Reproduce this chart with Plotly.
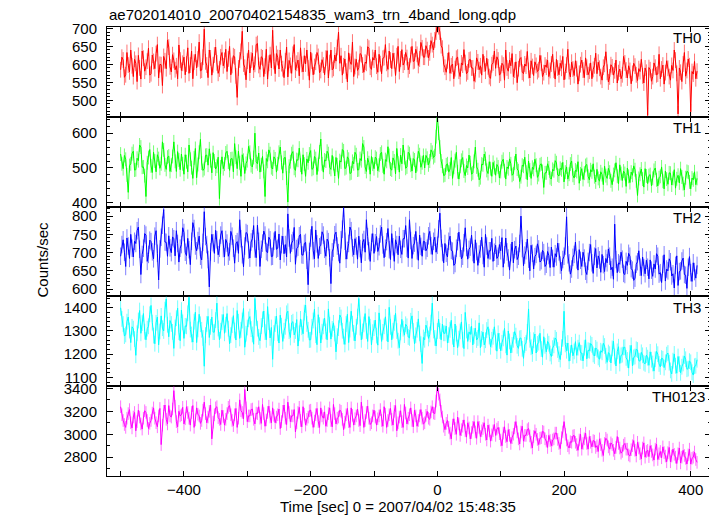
import plotly.graph_objects as go

# ---------------- data ----------------
T_START = -500          # time of first bin [s]
BIN = 2                 # bin width [s]

th0 = [
585, 620, 612, 564, 571, 633, 598, 579, 640, 596, 566, 614, 603, 552, 625, 590, 559, 637, 617, 581, 592, 609, 645, 570, 574, 626, 608, 588, 630, 655, 562, 600, 599, 541, 622, 610, 588, 668, 648, 593,
579, 627, 611, 585, 596, 560, 654, 612, 583, 603, 620, 571, 601, 646, 575, 598, 637, 560, 606, 628, 590, 615, 662, 582, 584, 620, 698, 607, 598, 563, 640, 618, 570, 599, 626, 648, 604, 575, 587, 621,
633, 596, 611, 642, 580, 615, 650, 571, 597, 624, 621, 568, 508, 590, 612, 636, 692, 601, 592, 557, 609, 640, 576, 612, 631, 584, 600, 655, 658, 597, 586, 621, 618, 566, 595, 642, 559, 603, 627, 590,
695, 608, 574, 630, 619, 587, 640, 602, 588, 563, 610, 648, 565, 611, 597, 575, 628, 655, 584, 603, 612, 568, 646, 600, 579, 624, 601, 640, 590, 556, 634, 609, 571, 594, 606, 633, 622, 577, 583, 613,
598, 571, 617, 638, 562, 605, 640, 585, 589, 626, 609, 647, 690, 603, 624, 570, 596, 615, 581, 551, 632, 608, 600, 662, 566, 594, 614, 583, 591, 630, 627, 598, 578, 606, 603, 649, 645, 592, 586, 619,
612, 640, 595, 578, 628, 602, 574, 617, 619, 655, 603, 586, 637, 612, 588, 631, 610, 569, 624, 650, 580, 615, 641, 598, 606, 633, 619, 585, 595, 627, 650, 608, 610, 642, 628, 597, 615, 661, 646, 620,
620, 652, 641, 618, 632, 666, 655, 640, 668, 690, 710, 705, 690, 652, 645, 600,
592, 578, 610, 633, 575, 596, 601, 560, 588, 617, 620, 581, 566, 604, 598, 641, 605, 574, 579, 612, 614, 590, 590, 553, 572, 618, 607, 585, 596, 570, 628, 601, 581, 617, 593, 566, 561, 599, 604, 637,
589, 621, 612, 570, 575, 603, 598, 556, 640, 590, 581, 612, 596, 630, 566, 584, 607, 549, 588, 615, 619, 578, 574, 601, 595, 636, 583, 562, 610, 594, 569, 607, 597, 580, 585, 625, 603, 566, 577, 598,
592, 612, 566, 583, 601, 628, 584, 559, 614, 590, 571, 603, 589, 622, 557, 580, 598, 642, 580, 565, 606, 587, 569, 610, 588, 545, 575, 599, 612, 584, 563, 618, 592, 571, 581, 604, 560, 586, 596, 631,
574, 606, 589, 566, 556, 592, 600, 635, 578, 551, 565, 599, 593, 570, 582, 612, 548, 577, 587, 560, 571, 622, 604, 584, 562, 596, 583, 546, 575, 603, 595, 571, 555, 588, 580, 614, 568, 548, 590, 578,
458, 591, 585, 553, 566, 604, 592, 571, 573, 628, 560, 587, 598, 545, 577, 610, 589, 566, 556, 597, 583, 640, 612, 575, 462, 590, 578, 552, 601, 633, 567, 583, 615, 596, 468, 580, 573, 608, 560, 581]

th1 = [
540, 512, 498, 536, 525, 480, 430, 507, 512, 541, 548, 494, 495, 528, 521, 566, 560, 502, 503, 478, 418, 515, 530, 553, 506, 487, 545, 520, 489, 538, 527, 499, 512, 575, 552, 509, 496, 531, 534, 490,
508, 533, 575, 519, 490, 547, 523, 495, 540, 512, 482, 538, 518, 489, 566, 525, 501, 470, 529, 556, 472, 510, 545, 582, 514, 493, 498, 536, 537, 508, 555, 521, 486, 544, 520, 497, 505, 531, 412, 503,
532, 498, 511, 543, 548, 517, 493, 526, 527, 489, 570, 531, 498, 548, 515, 476, 538, 522, 484, 513, 521, 562, 545, 507, 503, 530, 600, 518, 512, 543, 488, 509, 533, 490, 418, 527, 519, 552, 541, 501,
497, 532, 526, 488, 512, 545, 560, 516, 485, 529, 530, 471, 402, 505, 518, 541, 547, 499, 493, 524, 522, 557, 508, 482, 538, 511, 476, 526, 515, 540, 550, 496, 499, 533, 527, 481, 510, 546, 583, 512,
488, 523, 520, 548, 541, 502, 496, 536, 513, 477, 530, 509, 470, 521, 517, 553, 549, 498, 501, 532, 525, 484, 486, 519, 512, 545, 538, 494, 495, 527, 521, 570, 560, 503, 490, 528, 515, 482, 533, 511,
498, 531, 527, 492, 508, 540, 545, 506, 482, 524, 519, 561, 536, 497, 494, 529, 520, 483, 556, 514, 488, 537, 512, 566, 530, 499, 503, 545, 541, 508, 491, 527, 523, 486, 510, 548, 538, 502, 515, 536,
500, 536, 528, 509, 520, 552, 545, 530, 535, 590, 652, 600, 560, 520, 505, 478,
480, 509, 512, 488, 497, 530, 470, 502, 521, 545, 489, 468, 505, 522, 530, 491, 478, 507, 500, 537, 515, 482, 486, 519, 560, 503, 495, 466, 472, 511, 509, 540, 527, 493, 484, 518, 498, 476, 516, 501,
479, 510, 503, 471, 490, 518, 525, 492, 468, 503, 498, 526, 512, 479, 483, 514, 540, 497, 492, 461, 475, 508, 505, 531, 488, 466, 520, 494, 470, 502, 496, 525, 508, 473, 481, 509, 512, 490, 444, 486,
486, 512, 500, 472, 468, 496, 492, 521, 515, 480, 477, 499, 495, 516, 460, 488, 503, 468, 482, 511, 520, 479, 471, 494, 490, 518, 456, 483, 498, 467, 485, 507, 510, 476, 466, 495, 489, 512, 475, 460,
496, 470, 462, 489, 481, 452, 505, 478, 470, 499, 488, 463, 452, 481, 493, 515, 476, 455, 509, 484, 464, 491, 484, 447, 500, 476, 458, 488, 479, 506, 495, 463, 421, 470, 482, 497, 468, 445, 498, 477,
455, 478, 481, 449, 470, 493, 500, 466, 448, 472, 476, 503, 462, 440, 491, 468, 453, 486, 485, 451, 470, 495, 442, 469, 479, 457, 498, 474, 455, 437, 472, 490, 488, 460, 440, 471, 466, 489, 452, 470]

th2 = [
690, 722, 735, 701, 662, 740, 718, 684, 750, 712, 688, 731, 725, 760, 770, 709, 640, 695, 712, 752, 748, 676, 695, 734, 730, 702, 683, 745, 760, 698, 625, 710, 742, 775, 818, 729, 728, 690, 746, 713,
700, 743, 738, 691, 760, 725, 674, 712, 722, 768, 755, 701, 692, 739, 708, 667, 731, 782, 766, 718, 705, 733, 745, 690, 680, 728, 812, 744, 722, 681, 606, 702, 750, 727, 698, 761, 735, 694, 712, 748,
760, 711, 688, 736, 726, 690, 702, 758, 745, 712, 671, 724, 730, 698, 790, 738, 694, 661, 718, 755, 752, 707, 685, 729, 738, 774, 710, 686, 775, 731, 662, 709, 726, 759, 748, 703, 700, 742, 735, 689,
690, 731, 758, 709, 712, 751, 680, 722, 745, 697, 722, 688, 806, 740, 698, 726, 733, 769, 668, 711, 715, 746, 750, 694, 693, 725, 728, 679, 612, 703, 740, 772, 705, 683, 762, 724, 684, 716, 720, 757,
748, 709, 690, 737, 730, 686, 615, 702, 712, 749, 756, 718, 700, 671, 735, 764, 822, 731, 682, 706, 725, 770, 760, 713, 694, 738, 718, 682, 745, 711, 672, 728, 736, 701, 790, 744, 705, 676, 728, 752,
698, 727, 744, 703, 716, 751, 770, 721, 686, 712, 730, 766, 708, 681, 752, 716, 676, 735, 722, 694, 745, 709, 695, 738, 738, 774, 712, 685, 790, 733, 684, 719, 726, 758, 705, 679, 748, 717, 690, 731,
730, 705, 712, 746, 758, 719, 695, 731, 742, 701, 720, 765, 808, 739, 700, 672,
725, 698, 688, 731, 745, 706, 704, 665, 670, 712, 730, 756, 712, 683, 690, 727, 768, 714, 682, 709, 715, 748, 700, 671, 735, 703, 665, 696, 710, 742, 692, 660, 750, 718, 684, 705, 705, 739, 676, 701,
720, 684, 690, 722, 705, 741, 660, 694, 740, 702, 685, 652, 700, 729, 672, 708, 718, 681, 690, 725, 800, 711, 664, 693, 705, 737, 682, 650, 720, 698, 655, 689, 695, 724, 710, 674, 678, 706, 700, 662,
668, 703, 692, 659, 715, 684, 660, 697, 688, 726, 702, 666, 650, 681, 690, 718, 798, 694, 672, 641, 655, 687, 695, 729, 680, 652, 708, 679, 662, 701, 685, 649, 640, 676, 700, 722, 672, 643, 690, 711,
658, 691, 680, 646, 695, 667, 648, 684, 672, 710, 690, 653, 660, 627, 778, 681, 645, 672, 668, 701, 682, 643, 640, 676, 665, 698, 690, 656, 652, 624, 630, 668, 675, 705, 660, 637, 688, 659, 642, 679,
660, 628, 680, 652, 635, 669, 655, 697, 690, 641, 645, 618, 668, 694, 622, 655, 650, 683, 675, 636, 642, 603, 665, 691, 610, 648, 650, 677, 685, 640, 638, 602, 660, 689, 645, 621, 672, 648, 630, 665]

th3 = [
1400, 1352, 1330, 1278, 1285, 1340, 1360, 1302, 1250, 1318, 1310, 1265, 1195, 1290, 1345, 1388, 1290, 1334, 1375, 1297, 1262, 1310, 1320, 1372, 1410, 1336, 1280, 1245, 1335, 1360, 1240, 1298, 1365, 1312, 1300, 1392, 1438, 1327, 1275, 1345,
1330, 1296, 1225, 1315, 1355, 1398, 1295, 1258, 1390, 1337, 1268, 1322, 1320, 1376, 1445, 1306, 1285, 1252, 1340, 1381, 1250, 1307, 1372, 1329, 1305, 1270, 1148, 1282, 1330, 1363, 1272, 1318, 1360, 1295, 1295, 1347, 1420, 1311, 1262, 1301,
1338, 1371, 1290, 1327, 1375, 1310, 1245, 1282, 1325, 1366, 1302, 1261, 1388, 1340, 1268, 1305, 1345, 1397, 1230, 1288, 1315, 1350, 1362, 1308, 1285, 1243, 1440, 1356, 1310, 1274, 1258, 1321, 1350, 1386, 1295, 1262, 1405, 1338, 1270, 1315,
1178, 1291, 1330, 1364, 1290, 1248, 1368, 1323, 1255, 1301, 1318, 1376, 1385, 1299, 1272, 1335, 1340, 1283, 1300, 1349, 1235, 1290, 1352, 1316, 1288, 1379, 1412, 1330, 1305, 1261, 1262, 1318, 1345, 1394, 1282, 1241, 1370, 1325, 1248, 1297,
1320, 1355, 1298, 1262, 1395, 1327, 1265, 1309, 1335, 1289, 1210, 1278, 1312, 1369, 1358, 1301, 1276, 1242, 1330, 1372, 1250, 1306, 1385, 1331, 1292, 1257, 1318, 1362, 1440, 1315, 1262, 1298, 1328, 1375, 1300, 1255, 1362, 1318, 1240, 1295,
1312, 1347, 1280, 1239, 1378, 1315, 1255, 1296, 1320, 1361, 1290, 1253, 1402, 1318, 1262, 1301, 1335, 1376, 1300, 1258, 1228, 1294, 1350, 1310, 1282, 1329, 1320, 1274, 1270, 1344, 1365, 1300, 1245, 1281, 1305, 1352, 1290, 1243, 1160, 1272,
1262, 1325, 1310, 1268, 1285, 1336, 1420, 1302, 1270, 1235, 1300, 1351, 1300, 1262, 1330, 1290,
1290, 1321, 1248, 1282, 1305, 1346, 1275, 1231, 1330, 1289, 1228, 1267, 1298, 1339, 1262, 1224, 1380, 1302, 1255, 1296, 1285, 1320, 1240, 1279, 1312, 1261, 1270, 1335, 1228, 1266, 1295, 1240, 1260, 1304, 1318, 1276, 1232, 1262, 1275, 1318,
1250, 1213, 1290, 1257, 1215, 1249, 1268, 1311, 1238, 1196, 1300, 1255, 1205, 1240, 1262, 1297, 1280, 1236, 1225, 1268, 1270, 1223, 1182, 1240, 1248, 1296, 1395, 1262, 1230, 1201, 1260, 1287, 1205, 1244, 1250, 1290, 1222, 1187, 1275, 1236,
1210, 1255, 1245, 1203, 1190, 1226, 1238, 1270, 1262, 1218, 1200, 1177, 1230, 1266, 1385, 1242, 1215, 1248, 1170, 1205, 1240, 1193, 1212, 1254, 1195, 1228, 1250, 1207, 1205, 1171, 1228, 1262, 1180, 1217, 1215, 1246, 1240, 1199, 1192, 1227,
1220, 1186, 1178, 1215, 1208, 1247, 1235, 1193, 1165, 1207, 1200, 1162, 1225, 1256, 1190, 1149, 1212, 1232, 1160, 1195, 1198, 1229, 1230, 1184, 1175, 1140, 1205, 1238, 1150, 1186, 1190, 1221, 1218, 1172, 1170, 1208, 1195, 1163, 1158, 1196,
1185, 1152, 1210, 1176, 1160, 1127, 1178, 1212, 1200, 1158, 1145, 1183, 1180, 1142, 1165, 1198, 1205, 1163, 1130, 1115, 1172, 1201, 1150, 1118, 1190, 1157, 1120, 1146, 1160, 1192, 1178, 1135, 1138, 1170, 1165, 1122, 1110, 1148, 1150, 1176]

th0123 = [
3240, 3170, 3120, 3085, 3060, 3140, 3180, 3215, 3100, 3055, 3150, 3190, 3030, 3110, 3210, 3150, 3090, 3045, 3140, 3205, 3190, 3120, 3050, 3095, 3120, 3185, 3230, 3140, 3100, 3065, 3160, 3225, 2910, 3080, 3200, 3255, 3130, 3090, 3250, 3160,
3150, 3220, 3380, 3245, 3110, 3065, 3200, 3160, 3170, 3235, 3090, 3135, 3240, 3190, 3140, 3080, 3190, 3250, 3060, 3125, 3230, 3175, 3160, 3095, 3120, 3210, 3280, 3180, 3100, 3150, 3200, 3255, 2960, 3105, 3170, 3230, 3240, 3145, 3130, 3085,
3210, 3155, 3080, 3130, 3180, 3235, 3250, 3170, 3120, 3075, 3170, 3225, 3060, 3140, 3300, 3205, 3190, 3135, 3390, 3230, 3110, 3160, 3160, 3215, 3220, 3130, 3090, 3185, 3180, 3240, 3140, 3095, 3260, 3180, 3070, 3125, 3190, 3245, 3150, 3100,
3230, 3165, 3100, 3150, 3170, 3220, 3050, 3110, 3200, 3255, 3140, 3085, 3280, 3190, 3110, 3160, 3160, 3215, 3020, 3100, 3190, 3235, 3120, 3065, 3240, 3175, 3080, 3130, 3150, 3205, 3210, 3140, 3060, 3115, 3170, 3225, 3110, 3060, 3230, 3160,
3140, 3195, 3070, 3120, 3180, 3230, 3120, 3065, 3260, 3180, 3090, 3140, 3150, 3210, 3200, 3130, 3040, 3105, 3170, 3225, 3110, 3060, 3230, 3165, 3080, 3135, 3160, 3220, 3120, 3075, 3280, 3190, 3060, 3120, 3190, 3245, 3140, 3085, 3100, 3160,
3210, 3150, 3080, 3135, 3160, 3215, 3120, 3070, 3240, 3175, 3060, 3120, 3170, 3225, 3130, 3080, 3200, 3250, 3030, 3100, 3150, 3205, 3110, 3060, 3260, 3185, 3090, 3140, 3170, 3230, 3120, 3065, 3210, 3160, 3070, 3120, 3160, 3215, 3140, 3090,
3100, 3165, 3200, 3140, 3130, 3195, 3240, 3185, 3180, 3290, 3420, 3350, 3300, 3200, 3150, 3070,
3040, 3095, 3120, 3060, 3010, 2960, 3080, 3135, 3050, 3000, 3150, 3090, 2990, 3040, 3070, 3125, 3030, 2975, 3100, 3055, 2960, 3015, 3060, 3110, 3020, 2965, 3110, 3060, 2980, 3030, 3050, 3100, 3000, 2950, 3080, 3030, 2940, 2995, 3030, 3085,
2990, 3045, 3060, 3005, 2950, 2900, 3010, 3065, 2980, 2935, 3040, 2990, 2920, 2970, 3000, 3055, 3110, 3020, 2960, 2915, 3020, 3070, 2940, 2990, 2990, 3040, 3050, 2985, 2930, 2880, 2980, 3030, 3000, 2955, 2910, 2965, 2970, 3025, 3020, 2960,
2940, 2885, 2990, 2945, 2900, 2950, 2960, 3010, 3010, 2955, 2920, 2875, 2970, 3020, 3110, 3000, 2950, 2900, 2880, 2935, 2930, 2985, 2990, 2930, 2910, 2860, 2950, 3000, 2870, 2920, 2960, 3010, 2920, 2870, 2980, 2930, 2890, 2945, 2940, 2885,
2900, 2850, 2960, 2910, 2860, 2815, 2920, 2965, 2950, 2890, 2870, 2925, 2910, 2860, 2830, 2885, 2980, 2920, 2880, 2835, 2850, 2905, 2920, 2870, 2870, 2820, 2810, 2865, 2900, 2945, 2860, 2810, 2930, 2880, 2830, 2785, 2880, 2925, 2800, 2850,
2860, 2805, 2900, 2850, 2820, 2775, 2870, 2915, 2780, 2830, 2850, 2795, 2890, 2840, 2810, 2760, 2840, 2885, 2760, 2810, 2870, 2825, 2800, 2745, 2830, 2880, 2750, 2800, 2860, 2815, 2790, 2740, 2820, 2870, 2740, 2790, 2800, 2845, 2780, 2755]

# typical 1-sigma error per bin for each band (counts/sec)
errors = [22, 20, 24, 34, 55]

band_names = ["TH0", "TH1", "TH2", "TH3", "TH0123"]

x_tickvals = [-500, -400, -300, -200, -100, 0, 100, 200, 300, 400]
x_ticktext = ["", "\u2212400", "", "\u2212200", "", "0", "", "200", "", "400"]

th0_ticks = [500, 550, 600, 650, 700]
th1_ticks = [400, 500, 600]
th2_ticks = [600, 650, 700, 750, 800]
th3_ticks = [1100, 1200, 1300, 1400]
th0123_ticks = [2800, 3000, 3200, 3400]

# ---------------- styling ----------------
series = [th0, th1, th2, th3, th0123]
yticks = [th0_ticks, th1_ticks, th2_ticks, th3_ticks, th0123_ticks]
minor_dt = [10, 20, 10, 20, 100]
yranges = [[454, 704], [389, 647], [580, 826], [1062, 1449], [2636, 3419]]
colors = ["#ff0000", "#00ff00", "#0000ff", "#00ffff", "#ff00ff"]
light = ["rgba(255,0,0,0.55)", "rgba(0,255,0,0.55)", "rgba(0,0,255,0.5)",
         "rgba(0,255,255,0.55)", "rgba(255,0,255,0.55)"]

BODY = 8                       # default page margin of the html body
W, H = 717 - BODY, 516 - BODY
ML, MR, MT, MB = 107 - BODY, 6, 27 - BODY, 40
PW, PH = W - ML - MR, H - MT - MB
FONT = "Liberation Sans, Arial, Helvetica, sans-serif"
XR = [-521.5, 432]


def px_to_paper(xp, yp):
    """page pixel (reference coords) -> paper coords"""
    return (xp - BODY - ML) / PW, (H - MB - (yp - BODY)) / PH


label_x_px = [703, 703, 703, 703, 707]

fig = go.Figure()
layout = dict(
    width=W, height=H,
    margin=dict(l=ML, r=MR, t=MT, b=MB, pad=0),
    paper_bgcolor="white", plot_bgcolor="white",
    showlegend=False,
    font=dict(family=FONT, size=15, color="black"),
)

annotations = []
n_p = len(series)
for k in range(n_p):
    sfx = "" if k == 0 else str(k + 1)
    vals = series[k]
    time = [T_START + BIN * i for i in range(len(vals))]
    fig.add_trace(go.Scatter(
        x=time, y=vals, mode="lines",
        line=dict(color=colors[k], width=1),
        error_y=dict(type="constant", value=errors[k], color=light[k],
                     thickness=1, width=0),
        xaxis="x" + sfx, yaxis="y" + sfx, hoverinfo="skip",
    ))
    dom = [1 - (k + 1) / n_p, 1 - k / n_p]
    bottom = (k == n_p - 1)
    layout["xaxis" + sfx] = dict(
        domain=[0, 1], anchor="y" + sfx, range=XR,
        tickmode="array", tickvals=x_tickvals, ticktext=x_ticktext,
        showticklabels=bottom,
        ticks="inside", ticklen=5, tickcolor="black", tickwidth=1,
        showline=True, linecolor="black", linewidth=1, mirror="ticks",
        showgrid=False, zeroline=False,
        tickfont=dict(family=FONT, size=15, color="black"),
        **({} if k == 0 else {"matches": "x"}),
    )
    layout["yaxis" + sfx] = dict(
        domain=dom, anchor="x" + sfx, range=yranges[k],
        tickmode="array", tickvals=yticks[k],
        ticks="inside", ticklen=6, tickcolor="black", tickwidth=1,
        minor=dict(dtick=minor_dt[k], tick0=0, ticks="inside", ticklen=3,
                   tickcolor="black", tickwidth=1, showgrid=False),
        showline=True, linecolor="black", linewidth=1, mirror="allticks",
        showgrid=False, zeroline=False,
        ticklabelstandoff=6,
        tickfont=dict(family=FONT, size=15, color="black"),
    )
    top_px = 27.3 + 89.8 * k
    xp, yp = px_to_paper(label_x_px[k], top_px + 10.3)
    annotations.append(dict(
        text=band_names[k], xref="paper", yref="paper", x=xp, y=yp,
        xanchor="right", yanchor="middle", showarrow=False,
        font=dict(family=FONT, size=15, color="black"),
    ))

xp, yp = px_to_paper(107, 14)
annotations.append(dict(
    text="ae702014010_20070402154835_wam3_trn_4band_long.qdp",
    xref="paper", yref="paper", x=xp, y=yp,
    xanchor="left", yanchor="middle", showarrow=False,
    font=dict(family=FONT, size=15, color="black"),
))
xp, yp = px_to_paper(42, 259.5)
annotations.append(dict(
    text="Counts/sec", xref="paper", yref="paper", x=xp, y=yp, textangle=-90,
    xanchor="center", yanchor="middle", showarrow=False,
    font=dict(family=FONT, size=15, color="black"),
))
xp, yp = px_to_paper(397.5, 506.7)
annotations.append(dict(
    text="Time [sec] 0 = 2007/04/02 15:48:35", xref="paper", yref="paper",
    x=xp, y=yp, xanchor="center", yanchor="middle", showarrow=False,
    font=dict(family=FONT, size=15, color="black"),
))
layout["annotations"] = annotations

fig.update_layout(**layout)
fig.write_html("out.html")
